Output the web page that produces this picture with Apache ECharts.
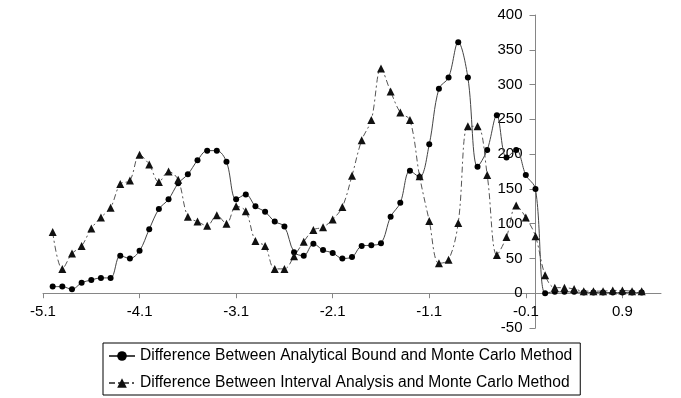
<!DOCTYPE html>
<html>
<head>
<meta charset="utf-8">
<script src="https://cdn.jsdelivr.net/npm/echarts@6/dist/echarts.min.js"></script>
<style>
html,body{margin:0;padding:0;background:#fff;}
#chart{width:681px;height:398px;}
</style>
</head>
<body>
<div id="chart"></div>
<script>
var xValues = [-5.0,-4.9,-4.8,-4.7,-4.6,-4.5,-4.4,-4.3,-4.2,-4.1,-4.0,-3.9,-3.8,-3.7,-3.6,-3.5,-3.4,-3.3,-3.2,-3.1,
  -3.0,-2.9,-2.8,-2.7,-2.6,-2.5,-2.4,-2.3,-2.2,-2.1,-2.0,-1.9,-1.8,-1.7,-1.6,-1.5,-1.4,-1.3,-1.2,-1.1,
  -1.0,-0.9,-0.8,-0.7,-0.6,-0.5,-0.4,-0.3,-0.2,-0.1,0.0,0.1,0.2,0.3,0.4,0.5,0.6,0.7,0.8,0.9,1.0,1.1];
var analyticalDiff = [9.5,9.5,5.7,15,19,22,22,54,50,61,92,121,135,158,171,191,205,205,189,135,
  142,125,117,103,96,59,54,71,62,58,50,52,68,69,72,110,130,176,167,214,
  294,310,361,310,182,206,256,195,206,170,150,0,2,2,2,1,1,1,1,1,1,1];
var intervalDiff = [88,35,57,68,93,109,123,157,162,199,185,160,175,163,110,103,97,112,100,125,
  118,75,68,35,35,53,74,91,95,106,124,169,220,249,323,290,260,249,168,104,
  43,48,101,240,240,170,55,81,126,109,82,26,8,8,6,3,3,3,4,4,3,3];
var xTicks = [-5.1,-4.1,-3.1,-2.1,-1.1,-0.1,0.9];
var seriesNames = ['Difference Between Analytical Bound and Monte Carlo Method',
  'Difference Between Interval Analysis and Monte Carlo Method'];

function pairs(ys){ return xValues.map(function(x,i){ return [x, ys[i]]; }); }

var gridLeft = 43, gridRight = 20, gridTop = 15, gridBottom = 70;
var W = 681, H = 398;
var chart = echarts.init(document.getElementById('chart'));
var font = 'Liberation Sans, Arial, sans-serif';
chart.setOption({
  animation:false,
  backgroundColor:'#fff',
  grid:{left:gridLeft,right:gridRight,top:gridTop,bottom:gridBottom,containLabel:false},
  xAxis:{
    type:'value', min:-5.1, max:1.3, position:'bottom', offset:0,
    splitLine:{show:false},
    axisLine:{onZero:false,lineStyle:{color:'#868686',width:1}},
    axisTick:{show:true,length:5,customValues:xTicks,lineStyle:{color:'#868686'}},
    axisLabel:{customValues:xTicks,margin:11,color:'#000',fontFamily:font,fontSize:15,
      formatter:function(v){return (Math.round(v*10)/10).toFixed(1);}}
  },
  yAxis:{
    type:'value', min:-50, max:400, interval:50, position:'left', offset:0,
    splitLine:{show:false},
    axisLine:{show:true,onZero:false,lineStyle:{color:'#868686',width:1}},
    axisTick:{show:true,length:6,lineStyle:{color:'#868686'}},
    axisLabel:{margin:13,color:'#000',fontFamily:font,fontSize:15}
  },
  legend:{
    orient:'vertical', left:103, top:343,
    borderColor:'#000', borderWidth:1, padding:[5,8,4,5],
    itemWidth:26, itemHeight:12, itemGap:11,
    textStyle:{color:'#000',fontFamily:font,fontSize:15.6},
    data:seriesNames
  },
  series:[
    {name:seriesNames[0], type:'line', data:pairs(analyticalDiff), smooth:0.35,
      symbol:'circle', symbolSize:6,
      itemStyle:{color:'#000'},
      lineStyle:{color:'#444',width:1,type:'solid'}},
    {name:seriesNames[1], type:'line', data:pairs(intervalDiff), smooth:0.35,
      symbol:'triangle', symbolSize:8,
      itemStyle:{color:'#111'},
      lineStyle:{color:'#555',width:1,type:[6,3,2,3]}}
  ]
});
// move axes so they cross at zero (labels follow the axis lines)
var px0 = chart.convertToPixel({xAxisIndex:0}, 0);
var py0 = chart.convertToPixel({yAxisIndex:0}, 0);
chart.setOption({
  yAxis:{offset: -(px0 - gridLeft)},
  xAxis:{offset: -((H - gridBottom) - py0)}
});
</script>
</body>
</html>
